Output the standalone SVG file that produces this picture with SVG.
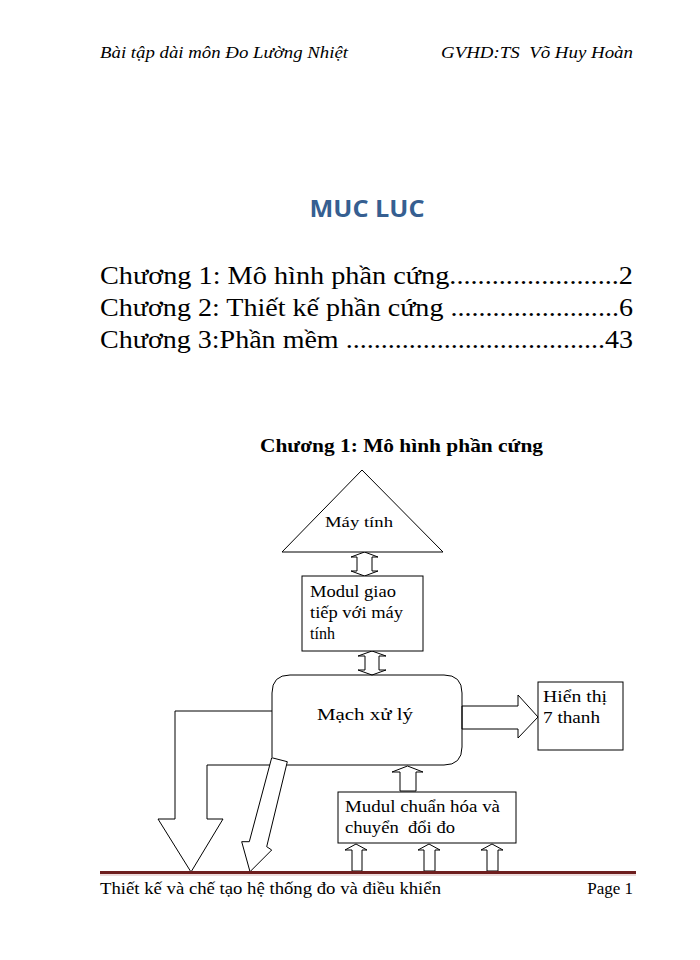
<svg xmlns="http://www.w3.org/2000/svg" width="700" height="960" viewBox="0 0 700 960">
<style>
.s{font-family:"Liberation Serif","Times New Roman",serif;fill:#000}
.hd{font-style:italic;font-size:16px}
.toc{font-size:26px}
.lbl{font-size:16px}
.shape{fill:#fff;stroke:#000;stroke-width:1}
.arr{fill:#fff;stroke:#000;stroke-width:1;stroke-linejoin:miter}
</style>
<rect width="700" height="960" fill="#fff"/>
<g id="header">
<text class="s hd" x="100" y="58" textLength="248" lengthAdjust="spacingAndGlyphs">Bài tập dài môn Đo Lường Nhiệt</text>
<text class="s hd" x="441" y="58" textLength="192" lengthAdjust="spacingAndGlyphs" xml:space="preserve">GVHD:TS  Võ Huy Hoàn</text>
</g>
<g id="toc">
<text x="367" y="217" text-anchor="middle" font-family="'Open Sans','Liberation Sans',sans-serif" font-weight="bold" font-size="24" fill="#365f91" textLength="115" lengthAdjust="spacingAndGlyphs">MUC LUC</text>
<text class="s toc" x="100" y="284" textLength="533" lengthAdjust="spacingAndGlyphs">Chương 1: Mô hình phần cứng........................2</text>
<text class="s toc" x="100" y="316" textLength="533" lengthAdjust="spacingAndGlyphs">Chương 2: Thiết kế phần cứng ........................6</text>
<text class="s toc" x="100" y="348" textLength="533" lengthAdjust="spacingAndGlyphs">Chương 3:Phần mềm .....................................43</text>
<text class="s" x="260" y="452" font-weight="bold" font-size="19" textLength="283" lengthAdjust="spacingAndGlyphs">Chương 1: Mô hình phần cứng</text>
</g>
<g id="connectors">
<polygon class="arr" points="364.5,552 378,557 372,557 372,571 378,571 364.5,576 351,571 357,571 357,557 351,557"/>
<polygon class="arr" points="372,651 386,656 379,656 379,670 386,670 372,675 358,670 365,670 365,656 358,656"/>
<polyline class="arr" points="272,711 175,711 175,819 158,819 191,872 223,819 207,819 207,765 290,765"/>
<polygon class="arr" points="271.7,757.7 287.3,761.7 266.7,846.7 271.7,850 250,871.7 241.7,841.7 249.3,841.7"/>
<polygon class="arr" points="462,706 518,706 518,695 538,717 518,738 518,729 462,729"/>
<polygon class="arr" points="400,791 400,772 392,772 407.5,766 423,772 416,772 416,791"/>
<polygon class="arr" points="352,871 352,850 345,850 356,844 367,850 362,850 362,871"/>
<polygon class="arr" points="424,871 424,850 418,850 429,844 440,850 435,850 435,871"/>
<polygon class="arr" points="487,871 487,850 481,850 492,844 503,850 498,850 498,871"/>
</g>
<g id="may-tinh">
<polygon class="shape" points="362,470 443,552 282,552"/>
<text class="s" x="325" y="527" font-size="15" textLength="68" lengthAdjust="spacingAndGlyphs">Máy tính</text>
</g>
<g id="modul-giao-tiep">
<rect class="shape" x="302" y="576" width="121" height="75"/>
<text class="s lbl" x="310" y="597" textLength="86" lengthAdjust="spacingAndGlyphs">Modul giao</text>
<text class="s lbl" x="310" y="618" textLength="93" lengthAdjust="spacingAndGlyphs">tiếp với máy</text>
<text class="s lbl" x="310" y="639">tính</text>
</g>
<g id="mach-xu-ly">
<path d="M290,675 H444 Q462,675 462,693 V747 Q462,765 444,765 H290 M272,757 V693 Q272,675 290,675" fill="none" stroke="#000" stroke-width="1"/>
<text class="s" x="317" y="720" font-size="17" textLength="96" lengthAdjust="spacingAndGlyphs">Mạch xử lý</text>
</g>
<g id="hien-thi">
<rect class="shape" x="538" y="682" width="85" height="68"/>
<text class="s lbl" x="543" y="702" textLength="64" lengthAdjust="spacingAndGlyphs">Hiển thị</text>
<text class="s lbl" x="543" y="723" textLength="57" lengthAdjust="spacingAndGlyphs">7 thanh</text>
</g>
<g id="mudul-chuan-hoa">
<rect class="shape" x="338" y="792" width="178" height="51"/>
<text class="s lbl" x="345" y="812" textLength="155" lengthAdjust="spacingAndGlyphs">Mudul chuẩn hóa và</text>
<text class="s lbl" x="345" y="833" textLength="110" lengthAdjust="spacingAndGlyphs" xml:space="preserve">chuyển  đổi đo</text>
</g>
<g id="footer">
<line x1="100" y1="872.5" x2="636" y2="872.5" stroke="#6e1e1e" stroke-width="3"/>
<line x1="100" y1="875" x2="636" y2="875" stroke="#d9b8b8" stroke-width="1"/>
<text class="s" x="100" y="894" font-size="17" textLength="341" lengthAdjust="spacingAndGlyphs">Thiết kế và chế tạo hệ thống đo và điều khiển</text>
<text class="s" x="633" y="894" font-size="17" text-anchor="end">Page 1</text>
</g>
</svg>
